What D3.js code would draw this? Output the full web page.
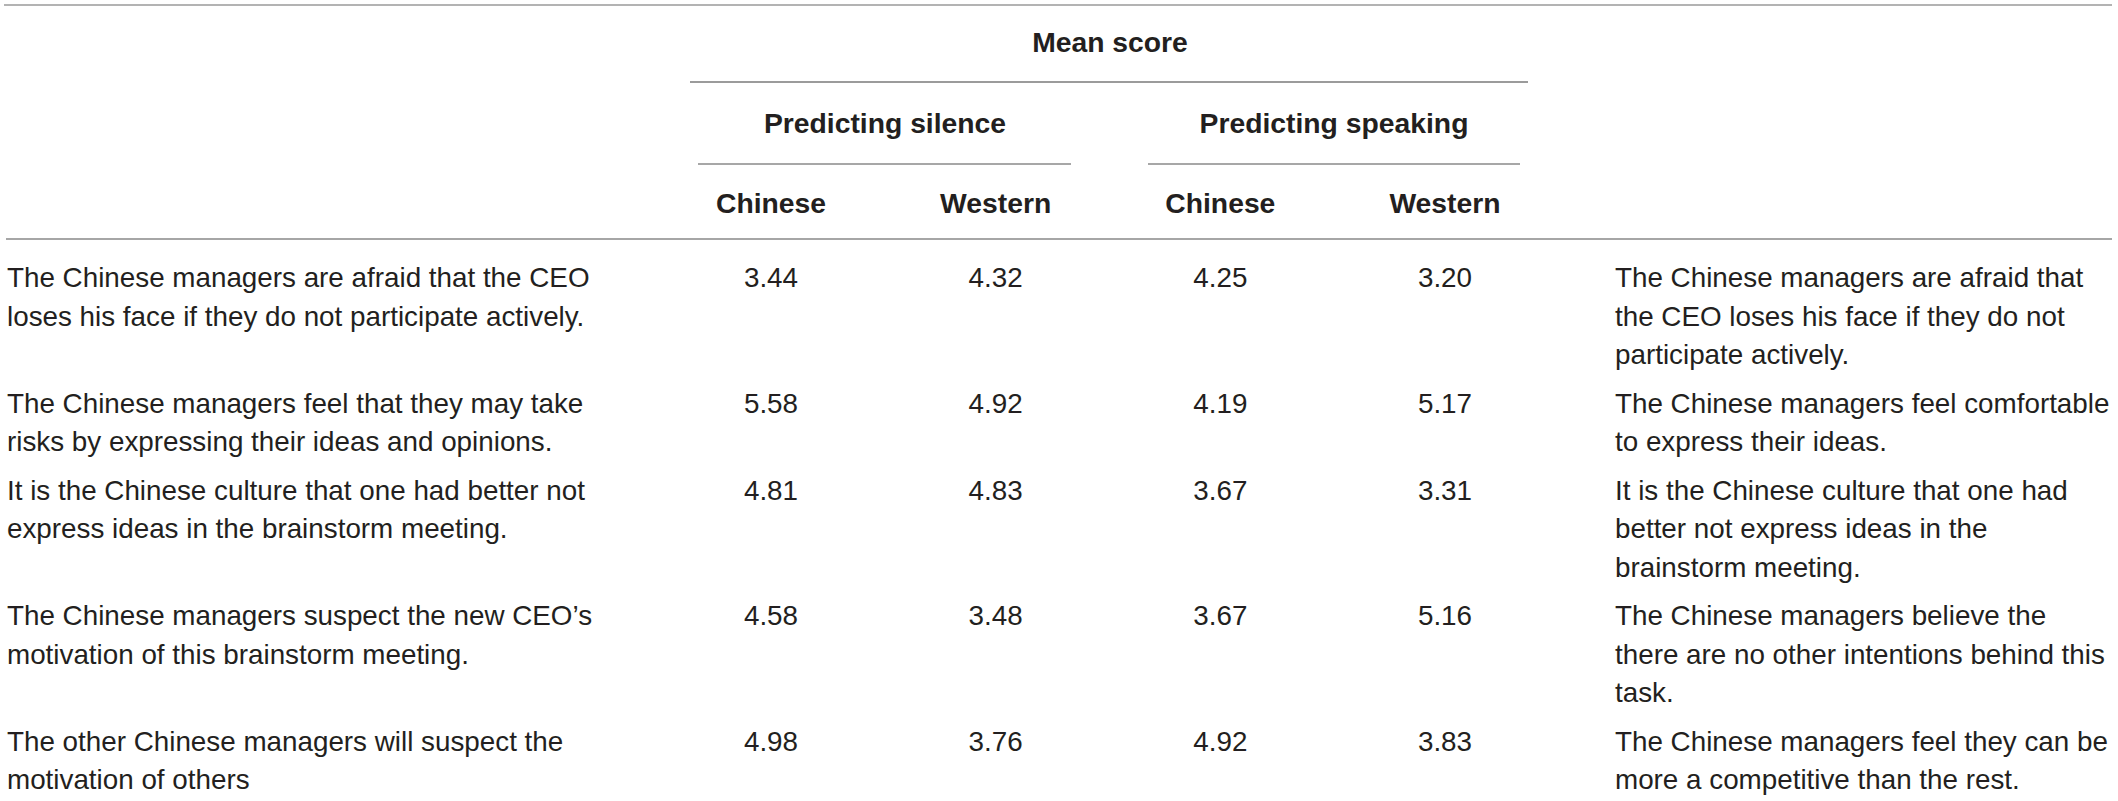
<!DOCTYPE html>
<html>
<head>
<meta charset="utf-8">
<script src="https://cdn.jsdelivr.net/npm/d3@7"></script>
<style>
  html, body { margin: 0; padding: 0; background: #fff; }
  svg { display: block; }
</style>
</head>
<body>
<svg id="chart" width="2118" height="801"></svg>
<script>
// ---------------- DATA ----------------
const spanTitle = "Mean score";
const groups = ["Predicting silence", "Predicting speaking"];
const columns = ["Chinese", "Western", "Chinese", "Western"];

const silenceStatements = [
  ["The Chinese managers are afraid that the CEO", "loses his face if they do not participate actively."],
  ["The Chinese managers feel that they may take", "risks by expressing their ideas and opinions."],
  ["It is the Chinese culture that one had better not", "express ideas in the brainstorm meeting."],
  ["The Chinese managers suspect the new CEO\u2019s", "motivation of this brainstorm meeting."],
  ["The other Chinese managers will suspect the", "motivation of others"]
];
const silenceChinese = [3.44, 5.58, 4.81, 4.58, 4.98];
const silenceWestern = [4.32, 4.92, 4.83, 3.48, 3.76];
const speakingChinese = [4.25, 4.19, 3.67, 3.67, 4.92];
const speakingWestern = [3.20, 5.17, 3.31, 5.16, 3.83];
const speakingStatements = [
  ["The Chinese managers are afraid that", "the CEO loses his face if they do not", "participate actively."],
  ["The Chinese managers feel comfortable", "to express their ideas."],
  ["It is the Chinese culture that one had", "better not express ideas in the", "brainstorm meeting."],
  ["The Chinese managers believe the", "there are no other intentions behind this", "task."],
  ["The Chinese managers feel they can be", "more a competitive than the rest."]
];

// ---------------- LAYOUT ----------------
const svg = d3.select("#chart");
const FONT = "'Liberation Sans', Arial, Helvetica, sans-serif";
const textColor = "#231f20";
const bodySize = 27.8, headSize = 28.3;
const lineH = 38.5, rowPad = 10;

const leftX = 7, rightX = 1615;
const colX = d3.scalePoint().domain(d3.range(columns.length)).range([771, 1445]);
const groupX = d3.scalePoint().domain(d3.range(groups.length)).range([885, 1334]);

const values = [silenceChinese, silenceWestern, speakingChinese, speakingWestern];

// row baselines from line counts
const nLines = silenceStatements.map((s, i) => Math.max(s.length, speakingStatements[i].length));
const rowY = [];
nLines.reduce((y, n, i) => { rowY.push(y); return y + n * lineH + rowPad; }, 287);

// ---------------- RULES ----------------
const rules = [
  {x1: 4, x2: 2112, y: 5, w: 1.6, c: "#9a9a9a"},
  {x1: 690, x2: 1528, y: 82, w: 1.3, c: "#7a7a7a"},
  {x1: 698, x2: 1071, y: 164, w: 1.3, c: "#8a8a8a"},
  {x1: 1148, x2: 1520, y: 164, w: 1.3, c: "#8a8a8a"},
  {x1: 6, x2: 2112, y: 239, w: 2, c: "#a6a6a6"}
];
svg.append("g").selectAll("line").data(rules).join("line")
  .attr("x1", d => d.x1).attr("x2", d => d.x2)
  .attr("y1", d => d.y).attr("y2", d => d.y)
  .attr("stroke", d => d.c).attr("stroke-width", d => d.w);

// ---------------- HEADER ----------------
const head = svg.append("g")
  .attr("font-family", FONT).attr("font-weight", "bold")
  .attr("font-size", headSize).attr("fill", textColor)
  .attr("text-anchor", "middle");

head.append("text").attr("x", 1110).attr("y", 52).text(spanTitle);
head.selectAll("text.grp").data(groups).join("text").attr("class", "grp")
  .attr("x", (d, i) => groupX(i)).attr("y", 133).text(d => d);
head.selectAll("text.col").data(columns).join("text").attr("class", "col")
  .attr("x", (d, i) => colX(i)).attr("y", 213).text(d => d);

// ---------------- BODY ----------------
const body = svg.append("g")
  .attr("font-family", FONT).attr("font-size", bodySize).attr("fill", textColor);

// left statements
body.selectAll("text.left").data(silenceStatements).join("text").attr("class", "left")
  .attr("x", leftX).attr("y", (d, i) => rowY[i])
  .each(function(lines) {
    d3.select(this).selectAll("tspan").data(lines).join("tspan")
      .attr("x", leftX).attr("dy", (l, j) => j === 0 ? 0 : lineH).text(l => l);
  });

// values
values.forEach((series, c) => {
  body.selectAll("text.v" + c).data(series).join("text").attr("class", "v" + c)
    .attr("text-anchor", "middle")
    .attr("x", colX(c)).attr("y", (d, i) => rowY[i])
    .text(d => d3.format(".2f")(d));
});

// right statements
body.selectAll("text.right").data(speakingStatements).join("text").attr("class", "right")
  .attr("x", rightX).attr("y", (d, i) => rowY[i])
  .each(function(lines) {
    d3.select(this).selectAll("tspan").data(lines).join("tspan")
      .attr("x", rightX).attr("dy", (l, j) => j === 0 ? 0 : lineH).text(l => l);
  });
</script>
</body>
</html>
